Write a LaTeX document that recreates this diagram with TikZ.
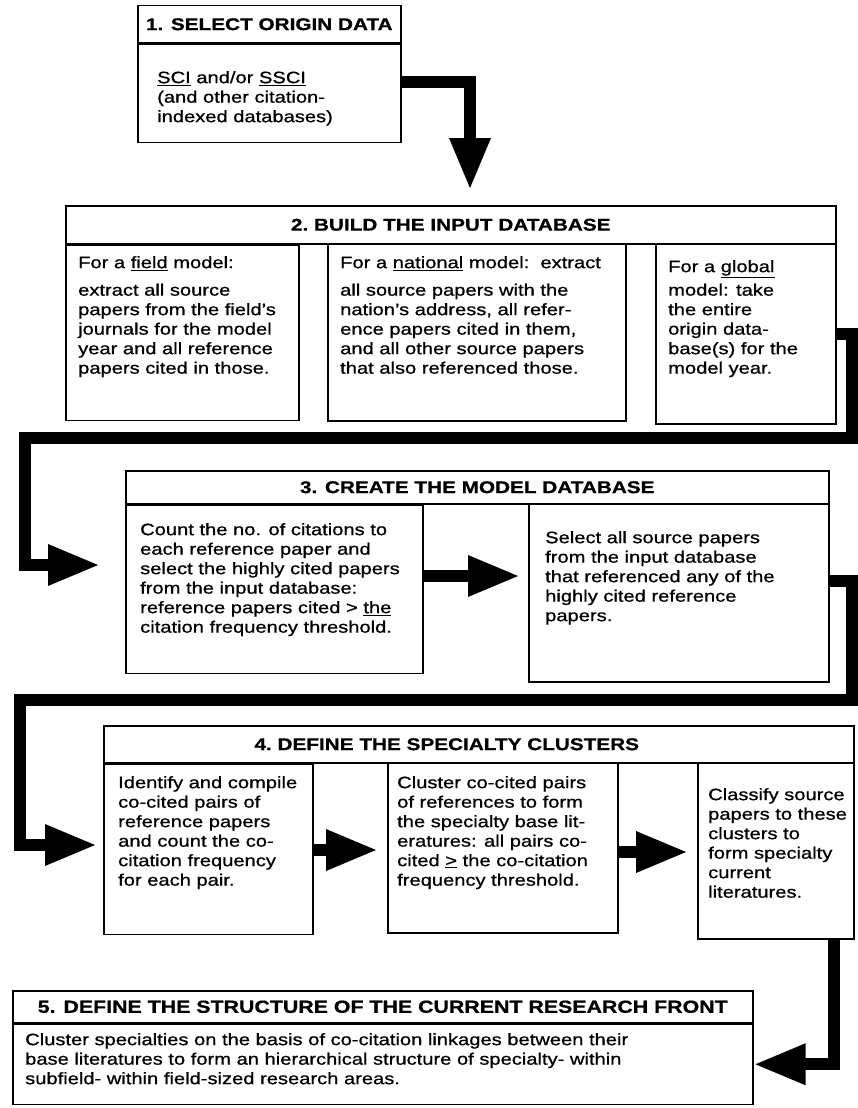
\documentclass[tikz,border=0pt]{standalone}
\usepackage{fontspec}
\setmainfont{Liberation Sans}[FakeStretch=1.22, FakeBold=0.8]
\usetikzlibrary{arrows.meta, positioning}

\tikzset{
  panel/.style={draw, line width=1.5pt, inner sep=0pt, anchor=north west},
  heading/.style={panel, font=\bfseries\fontsize{17}{20}\selectfont},
  blurb/.style={anchor=north west, align=left, inner sep=0pt, font=\fontsize{16.5}{19.5}\selectfont},
  flow/.style={line width=12pt, -{Triangle[length=52pt,width=38pt]}},
}

\begin{document}
\begin{tikzpicture}[x=1pt, y=-1pt]
  \fill[white] (0,0) rectangle (857,1108);
  \useasboundingbox (0,0) rectangle (857,1108);

  \node[heading, minimum width=263pt, minimum height=37pt] (t1) at (137,5) {1. SELECT ORIGIN DATA};
  \node[panel, minimum width=263pt, minimum height=98pt]   (b1) at (t1.south west) {};
  \node[blurb] (x1) at (157,71) {\underline{SCI} and/or \underline{SSCI}\\(and other citation-\\indexed databases)};

  \node[heading, minimum width=770pt, minimum height=38pt] (t2) at (65,205) {2.\ BUILD\ THE\ INPUT\ DATABASE};
  \node[panel, minimum width=233pt, minimum height=175pt]  (s21) at (t2.south west) {};
  \node[panel, minimum width=298pt, minimum height=177pt]  (s22) at (327,243) {};
  \node[panel, minimum width=180pt, minimum height=180pt]  (s23) at (655,243) {};
  \node[blurb] (x21) at (78,256)  {For a \underline{field} model:\\[8pt]extract all source\\papers from the field's\\journals for the model\\year and all reference\\papers cited in those.};
  \node[blurb] (x22) at (340,256) {For a \underline{national} model:\ \ extract\\[8pt]all source papers with the\\nation's address, all refer-\\ence papers cited in them,\\and all other source papers\\that also referenced those.};
  \node[blurb] (x23) at (668,260) {For a \underline{global}\\[4pt]model: take\\the entire\\origin data-\\base(s) for the\\model year.};

  \node[heading, minimum width=703pt, minimum height=33pt] (t3) at (125,470) {3. CREATE THE MODEL DATABASE};
  \node[panel, minimum width=297pt, minimum height=168pt]  (s31) at (t3.south west) {};
  \node[panel, minimum width=300pt, minimum height=178pt]  (s32) at (528,503) {};
  \node[blurb] (x31) at (140,523) {Count the no. of citations to\\each reference paper and\\select the highly cited papers\\from the input database:\\reference papers cited > \underline{the}\\citation frequency threshold.};
  \node[blurb] (x32) at (545,531) {Select all source papers\\from the input database\\that referenced any of the\\highly cited reference\\papers.};

  \node[heading, minimum width=750pt, minimum height=37pt] (t4) at (103,725) {4.\ DEFINE\ THE\ SPECIALTY\ CLUSTERS\rule{64pt}{0pt}};
  \node[panel, minimum width=209pt, minimum height=170pt]  (s41) at (t4.south west) {};
  \node[panel, minimum width=230pt, minimum height=170pt]  (s42) at (387,762) {};
  \node[panel, minimum width=156pt, minimum height=176pt]  (s43) at (697,762) {};
  \node[blurb] (x41) at (118,776) {Identify and compile\\co-cited pairs of\\reference papers\\and count the co-\\citation frequency\\for each pair.};
  \node[blurb] (x42) at (397,776) {Cluster co-cited pairs\\of references to form\\the specialty base lit-\\eratures: all pairs co-\\cited \underline{>} the co-citation\\frequency threshold.};
  \node[blurb] (x43) at (708,788) {Classify source\\papers to these\\clusters to\\form specialty\\current\\literatures.};

  \node[heading, minimum width=740pt, minimum height=32pt, font=\bfseries\fontsize{17.5}{20}\selectfont] (t5) at (12,990) {5. DEFINE THE STRUCTURE OF THE CURRENT RESEARCH FRONT};
  \node[panel, minimum width=740pt, minimum height=80pt]   (b5) at (t5.south west) {};
  \node[blurb] (x5) at (25,1033) {Cluster specialties on the basis of co-citation linkages between their\\base literatures to form an hierarchical structure of specialty- within\\subfield- within field-sized research areas.};

  \coordinate (tip1) at (470,190);
  \coordinate (tip2) at (100,565);
  \coordinate (tip3) at (520,576);
  \coordinate (tip4) at (97,845);
  \coordinate (tip5) at (378,850);
  \coordinate (tip6) at (688,852);

  \draw[flow] ([yshift=11pt]b1.east) -| (tip1);
  \draw[flow] (s23.east) -| (852,438) -- (25,438) |- (tip2);
  \draw[flow] (s31.east |- tip3) -- (tip3);
  \draw[flow] ([yshift=12pt]s32.east) -| (852,700) -- (20,700) |- (tip4);
  \draw[flow] (s41.east |- tip5) -- (tip5);
  \draw[flow] (s42.east |- tip6) -- (tip6);
  \draw[flow] ([xshift=58pt]s43.south) |- (b5.east);
\end{tikzpicture}
\end{document}
